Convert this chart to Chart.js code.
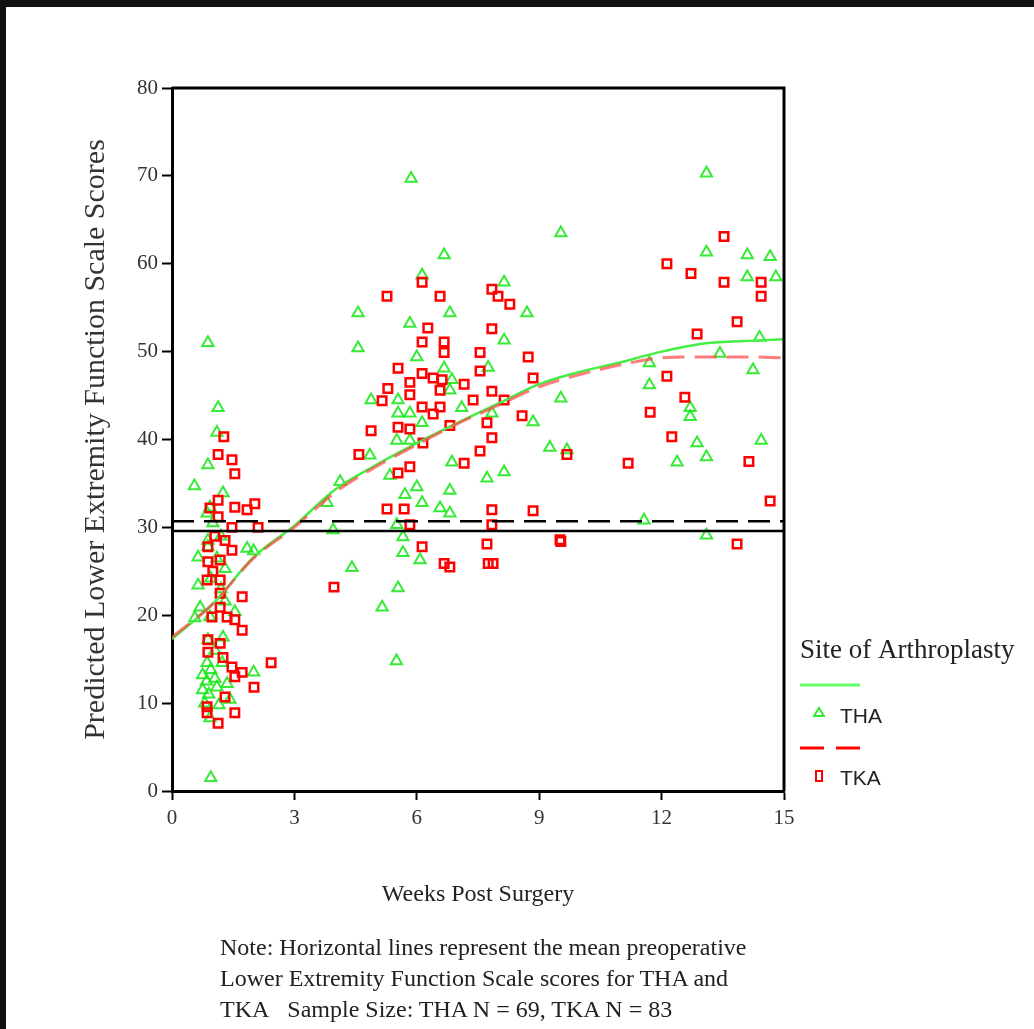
<!DOCTYPE html>
<html>
<head>
<meta charset="utf-8">
<title>Predicted Lower Extremity Function Scale Scores</title>
<script src="https://cdn.jsdelivr.net/npm/chart.js@4.4.1/dist/chart.umd.min.js"></script>
<style>
  body { margin: 0; background: #fff; }
  #wrap { position: relative; width: 1034px; height: 1029px; overflow: hidden; background: #fff; }
  #chart { position: absolute; left: 0; top: 0; }
  .bar { position: absolute; background: #111; }
  #note { position: absolute; left: 220px; top: 932px; font: 24px "Liberation Serif", serif; color: #222; line-height: 31px; white-space: nowrap; }
</style>
</head>
<body>
<div id="wrap">
  <div class="bar" style="left:0;top:0;width:1034px;height:7px"></div>
  <div class="bar" style="left:0;top:0;width:6px;height:1029px"></div>
  <canvas id="chart" width="1034" height="1029"></canvas>
  <div id="note">Note: Horizontal lines represent the mean preoperative<br>Lower Extremity Function Scale scores for THA and<br>TKA&nbsp;&nbsp; Sample Size: THA N = 69, TKA N = 83</div>
</div>
<script>
// THA observations (weeks post surgery, predicted LEFS score)
const thaWeeks = [
  0.55, 0.88, 0.88, 1.13, 1.10, 0.95, 2.00, 2.00, 1.25, 0.86, 0.93, 1.00, 1.20, 0.88, 0.64,
  0.88, 1.84, 1.10, 1.30, 0.64, 0.95, 1.20, 0.69, 0.56, 0.93, 1.54, 1.30, 0.88, 1.25, 1.05,
  0.86, 1.23, 0.75, 0.85, 0.95, 1.05, 0.75, 0.90, 1.10, 1.42, 0.93, 1.15, 1.35, 0.80,
  5.86, 6.67, 8.14, 6.13, 4.56, 5.83, 6.81, 8.70, 4.56, 6.00, 8.14, 7.75, 6.67, 4.88, 5.54,
  6.86, 6.81, 5.54, 5.83, 6.13, 5.51, 5.83, 7.10, 7.84, 8.85, 9.26, 4.85, 4.12, 5.34, 6.86,
  7.72, 8.14, 6.81, 6.00, 5.71, 6.13, 6.57, 6.81, 3.95, 5.51, 5.66, 5.66, 6.08, 4.41, 5.54,
  5.15, 5.50, 3.80,
  13.10, 9.53, 13.10, 14.10, 14.66, 14.10, 14.80, 14.40, 11.70, 14.24, 11.70, 9.53, 12.70,
  12.70, 9.68, 12.87, 14.44, 12.38, 13.10, 11.57, 13.10, 13.43
];
const thaScores = [
  34.7, 51.0, 37.1, 43.6, 40.8, 1.5, 27.3, 13.5, 33.9, 31.6, 32.3, 30.5, 29.0, 28.5, 26.6,
  27.8, 27.6, 26.5, 25.3, 23.4, 24.2, 23.0, 20.9, 19.7, 19.8, 20.4, 21.6, 17.2, 17.5, 16.0,
  14.6, 14.6, 13.2, 12.5, 13.8, 12.8, 11.5, 11.0, 11.8, 10.4, 8.3, 9.8, 12.2, 10.0,
  69.7, 61.0, 57.9, 58.7, 54.4, 53.2, 54.4, 54.4, 50.4, 49.4, 51.3, 48.2, 48.1, 44.5, 44.5,
  46.8, 45.6, 43.0, 43.0, 41.9, 39.9, 39.9, 43.6, 43.0, 42.0, 39.1, 38.2, 35.2, 35.9, 37.4,
  35.6, 36.3, 34.2, 34.6, 33.7, 32.8, 32.2, 31.6, 29.7, 30.3, 28.9, 27.1, 26.3, 25.4, 23.1,
  20.9, 14.8, 32.8,
  70.3, 63.5, 61.3, 61.0, 60.8, 58.5, 58.5, 51.6, 48.7, 47.9, 46.2, 44.7, 43.6,
  42.6, 38.8, 39.6, 39.9, 37.4, 38.0, 30.8, 29.1, 49.8
];

// TKA observations
const tkaWeeks = [
  1.27, 1.13, 1.47, 1.54, 1.13, 0.93, 1.54, 1.84, 2.03, 1.13, 1.47, 2.11, 0.88, 1.47, 0.88,
  1.18, 0.86, 1.18, 1.18, 1.72, 1.18, 0.98, 1.35, 1.54, 1.72, 0.88, 1.18, 0.88, 1.25, 1.47,
  2.43, 1.72, 1.54, 2.01, 1.30, 0.86, 0.86, 1.54, 1.13, 1.05, 1.00, 1.30,
  6.13, 5.27, 6.57, 7.84, 7.99, 8.28, 6.27, 7.84, 6.13, 6.67, 6.67, 7.55, 8.73, 5.54, 7.55,
  6.13, 6.40, 6.62, 5.83, 7.16, 8.85, 5.29, 5.83, 6.57, 7.84, 5.15, 6.13, 6.57, 6.40, 7.38,
  8.14, 8.58, 4.88, 5.54, 5.83, 6.81, 7.72, 7.84, 6.15, 4.58, 7.55, 7.16, 5.83, 5.54, 5.27,
  5.69, 7.84, 8.85, 5.83, 7.84, 9.51, 6.13, 7.72, 6.67, 6.81, 7.75, 7.87, 3.97,
  13.53, 12.13, 12.72, 13.53, 14.44, 14.44, 13.85, 12.87, 12.13, 12.57, 11.72, 12.25, 9.68,
  11.18, 14.14, 14.66, 9.53, 13.85
];
const tkaScores = [
  40.3, 38.3, 37.7, 36.1, 33.1, 32.2, 32.3, 32.0, 32.7, 31.2, 30.0, 30.0, 27.8, 27.4, 26.1,
  26.3, 24.0, 24.0, 22.5, 22.1, 20.9, 19.8, 19.8, 19.5, 18.3, 17.2, 16.8, 15.8, 15.2, 14.1,
  14.6, 13.5, 13.0, 11.8, 10.7, 9.6, 8.9, 8.9, 7.7, 29.0, 25.0, 28.5,
  57.9, 56.3, 56.3, 57.1, 56.3, 55.4, 52.7, 52.6, 51.1, 51.1, 49.9, 49.9, 49.4, 48.1, 47.8,
  47.5, 47.0, 46.8, 46.5, 46.3, 47.0, 45.8, 45.1, 45.6, 45.5, 44.4, 43.7, 43.7, 42.9, 44.5,
  44.5, 42.7, 41.0, 41.4, 41.2, 41.6, 41.9, 40.2, 39.6, 38.3, 38.7, 37.3, 36.9, 36.2, 32.1,
  32.1, 32.0, 31.9, 30.3, 30.3, 28.6, 27.8, 28.1, 25.9, 25.5, 25.9, 25.9, 23.2,
  63.1, 60.0, 58.9, 57.9, 57.9, 56.3, 53.4, 52.0, 47.2, 44.8, 43.1, 40.3, 38.3,
  37.3, 37.5, 33.0, 28.4, 28.1
];

// fitted curves, read at each week
const fitWeeks = [0, 1, 2, 3, 4, 5, 6, 7, 8, 9, 10, 11, 12, 13, 14, 15];
const thaFit = [17.3, 21.3, 26.6, 30.2, 34.3, 37.1, 39.6, 41.9, 44.1, 46.3, 47.7, 48.8, 50.0, 50.9, 51.2, 51.4];
const tkaFit = [17.5, 21.3, 26.5, 30.0, 34.0, 36.9, 39.4, 41.8, 43.9, 46.0, 47.4, 48.5, 49.3, 49.4, 49.4, 49.3];

// mean preoperative scores (horizontal lines)
const preopWeeks = [0, 15];
const thaPreop = 29.6;
const tkaPreop = 30.7;

const toPoints = (xs, ys) => xs.map((x, i) => ({ x: x, y: ys[i] }));

const green = 'rgba(20, 230, 20, 0.85)';
const red = '#ff0000';

// frame on top and right side of the plot
const framePlugin = {
  id: 'frame',
  afterDatasetsDraw(chart) {
    const { ctx, chartArea } = chart;
    ctx.save();
    ctx.strokeStyle = '#000';
    ctx.lineWidth = 3;
    ctx.beginPath();
    ctx.moveTo(chartArea.left, chartArea.top);
    ctx.lineTo(chartArea.right, chartArea.top);
    ctx.lineTo(chartArea.right, chartArea.bottom);
    ctx.stroke();
    ctx.restore();
  }
};

// legend block on the right
const legendPlugin = {
  id: 'sideLegend',
  afterDraw(chart) {
    const ctx = chart.ctx;
    const x0 = chart.chartArea.right + 16;
    ctx.save();
    ctx.fillStyle = '#222';
    ctx.textBaseline = 'middle';
    ctx.font = '27px "Liberation Serif", serif';
    ctx.fillText('Site of Arthroplasty', x0, 651);

    ctx.strokeStyle = '#66ff66';
    ctx.lineWidth = 3;
    ctx.beginPath();
    ctx.moveTo(x0, 685);
    ctx.lineTo(x0 + 60, 685);
    ctx.stroke();

    ctx.strokeStyle = green;
    ctx.lineWidth = 2;
    ctx.beginPath();
    ctx.moveTo(x0 + 19, 708);
    ctx.lineTo(x0 + 24, 716);
    ctx.lineTo(x0 + 14, 716);
    ctx.closePath();
    ctx.stroke();

    ctx.fillStyle = '#222';
    ctx.font = '21px "Liberation Sans", Arial, sans-serif';
    ctx.fillText('THA', x0 + 40, 717);

    ctx.strokeStyle = red;
    ctx.lineWidth = 3;
    ctx.setLineDash([24, 12]);
    ctx.beginPath();
    ctx.moveTo(x0, 748);
    ctx.lineTo(x0 + 60, 748);
    ctx.stroke();
    ctx.setLineDash([]);

    ctx.lineWidth = 2;
    ctx.strokeRect(x0 + 16, 771, 6, 10);
    ctx.fillText('TKA', x0 + 40, 779);
    ctx.restore();
  }
};

new Chart(document.getElementById('chart'), {
  type: 'scatter',
  data: {
    datasets: [
      {
        label: 'THA',
        data: toPoints(thaWeeks, thaScores),
        pointStyle: 'triangle',
        pointRadius: 6.5,
        borderWidth: 2,
        borderColor: green,
        backgroundColor: 'rgba(0,0,0,0)',
        order: 5
      },
      {
        label: 'TKA',
        data: toPoints(tkaWeeks, tkaScores),
        pointStyle: 'rect',
        pointRadius: 6,
        borderWidth: 2.5,
        borderColor: red,
        backgroundColor: 'rgba(0,0,0,0)',
        order: 4
      },
      {
        label: 'THA fit',
        type: 'line',
        data: toPoints(fitWeeks, thaFit),
        borderColor: '#44ee44',
        borderWidth: 2.5,
        pointRadius: 0,
        cubicInterpolationMode: 'monotone',
        order: 3
      },
      {
        label: 'TKA fit',
        type: 'line',
        data: toPoints(fitWeeks, tkaFit),
        borderColor: 'rgba(255, 70, 70, 0.7)',
        borderWidth: 3,
        borderDash: [22, 10],
        pointRadius: 0,
        cubicInterpolationMode: 'monotone',
        order: 2
      },
      {
        label: 'THA preop mean',
        type: 'line',
        data: preopWeeks.map(x => ({ x: x, y: thaPreop })),
        borderColor: '#000',
        borderWidth: 2.5,
        pointRadius: 0,
        order: 1
      },
      {
        label: 'TKA preop mean',
        type: 'line',
        data: preopWeeks.map(x => ({ x: x, y: tkaPreop })),
        borderColor: '#000',
        borderWidth: 2.5,
        borderDash: [22, 10],
        pointRadius: 0,
        order: 1
      }
    ]
  },
  options: {
    responsive: false,
    animation: false,
    layout: { padding: { left: 0, top: 88, right: 250, bottom: 119 } },
    plugins: {
      legend: { display: false },
      tooltip: { enabled: false }
    },
    scales: {
      x: {
        type: 'linear',
        min: 0,
        max: 15,
        ticks: {
          stepSize: 3,
          color: '#333',
          padding: 6,
          font: { family: '"Liberation Serif", serif', size: 21 }
        },
        grid: { drawOnChartArea: false, drawTicks: true, tickLength: 9, tickWidth: 2, tickColor: '#000' },
        border: { display: true, color: '#000', width: 3 },
        title: {
          display: true,
          text: 'Weeks Post Surgery',
          color: '#222',
          font: { family: '"Liberation Serif", serif', size: 24 },
          padding: { top: 0, bottom: 1 }
        },
        afterFit(scale) { scale.height = 119; }
      },
      y: {
        min: 0,
        max: 80,
        ticks: {
          stepSize: 10,
          color: '#333',
          padding: 4,
          font: { family: '"Liberation Serif", serif', size: 21 }
        },
        grid: { drawOnChartArea: false, drawTicks: true, tickLength: 10, tickWidth: 2, tickColor: '#000' },
        border: { display: true, color: '#000', width: 3 },
        title: {
          display: true,
          text: 'Predicted Lower Extremity Function Scale Scores',
          color: '#333',
          font: { family: '"Liberation Serif", serif', size: 30 },
          padding: { top: 78, bottom: 0 }
        },
        afterFit(scale) { scale.width = 172; }
      }
    }
  },
  plugins: [framePlugin, legendPlugin]
});
</script>
</body>
</html>
